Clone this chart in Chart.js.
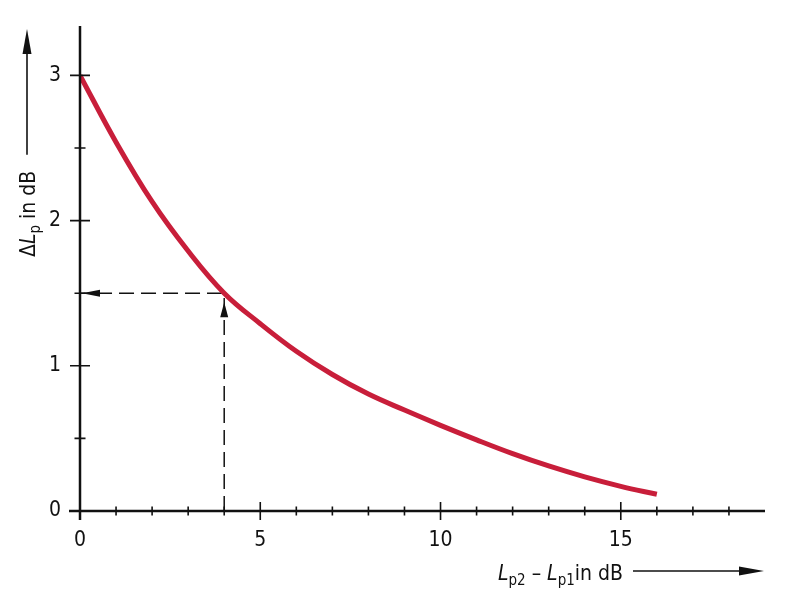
<!DOCTYPE html>
<html>
<head>
<meta charset="utf-8">
<script src="https://cdn.jsdelivr.net/npm/chart.js@4"></script>
<style>
  html, body { margin: 0; padding: 0; background: #fff; }
  #wrap { width: 800px; height: 606px; }
</style>
</head>
<body>
<div id="wrap"><canvas id="myChart" width="800" height="606"></canvas></div>
<script>
// level difference Lp2 - Lp1 (dB) and the resulting increase ΔLp (dB)
const levelDiff = [0, 1, 2, 3, 4, 5, 6, 7, 8, 9, 10, 11, 12, 13, 14, 15, 16];
const deltaL = [3.0, 2.54, 2.13, 1.79, 1.50, 1.29, 1.10, 0.94, 0.805, 0.695, 0.59, 0.49, 0.395, 0.31, 0.235, 0.17, 0.115];

// dashed reading example: 4 dB -> 1.5 dB
const exampleX = [4, 4, 0];
const exampleY = [0, 1.5, 1.5];

const xTickLabels = [0, 5, 10, 15];
const yTickLabels = [0, 1, 2, 3];

const FONT = '"DejaVu Sans Condensed", "Liberation Sans Narrow", "DejaVu Sans", sans-serif';

function arrowHead(ctx, tipX, tipY, dir, len, half) {
  // dir: unit vector of arrow direction
  const bx = tipX - dir[0] * len, by = tipY - dir[1] * len;
  const nx = -dir[1], ny = dir[0];
  ctx.beginPath();
  ctx.moveTo(tipX, tipY);
  ctx.lineTo(bx + nx * half, by + ny * half);
  ctx.lineTo(bx - nx * half, by - ny * half);
  ctx.closePath();
  ctx.fill();
}

// draws text made of parts {t, italic, sub} starting at x, baseline y, returns end x
function richText(ctx, parts, x, y) {
  parts.forEach(p => {
    const size = p.sub ? 15 : 21;
    ctx.font = (p.italic ? 'italic ' : '') + size + 'px ' + FONT;
    ctx.fillText(p.t, x, y + (p.sub ? 5 : 0));
    x += ctx.measureText(p.t).width;
  });
  return x;
}

const axesPlugin = {
  id: 'axesPlugin',
  afterDraw(chart) {
    const ctx = chart.ctx;
    const xs = chart.scales.x, ys = chart.scales.y;
    const x0 = xs.getPixelForValue(0), y0 = ys.getPixelForValue(0);
    ctx.save();
    ctx.strokeStyle = '#111';
    ctx.fillStyle = '#111';
    ctx.lineCap = 'butt';

    // axis lines
    ctx.lineWidth = 2.5;
    ctx.beginPath();
    ctx.moveTo(x0 - 11, y0);
    ctx.lineTo(xs.getPixelForValue(19), y0);
    ctx.moveTo(x0, y0 + 9);
    ctx.lineTo(x0, ys.getPixelForValue(ys.max));
    ctx.stroke();

    // x ticks
    ctx.lineWidth = 1.6;
    ctx.beginPath();
    for (let v = 1; v <= 18; v++) {
      const px = xs.getPixelForValue(v);
      const h = v % 5 === 0 ? 9 : 4.5;
      ctx.moveTo(px, y0 - h);
      ctx.lineTo(px, y0 + h);
    }
    // y ticks
    for (let v = 0.5; v <= 3; v += 0.5) {
      const py = ys.getPixelForValue(v);
      const h = Number.isInteger(v) ? 10 : 5.5;
      ctx.moveTo(x0 - h, py);
      ctx.lineTo(x0 + h, py);
    }
    ctx.stroke();

    // tick labels
    ctx.font = '21px ' + FONT;
    ctx.textBaseline = 'middle';
    ctx.textAlign = 'center';
    xTickLabels.forEach(v => ctx.fillText(String(v), xs.getPixelForValue(v), y0 + 30));
    ctx.textAlign = 'right';
    yTickLabels.forEach(v => ctx.fillText(String(v), x0 - 19, ys.getPixelForValue(v)));

    // arrowheads of the reading example
    const ex = xs.getPixelForValue(4), ey = ys.getPixelForValue(1.5);
    arrowHead(ctx, ex, ey + 9, [0, -1], 15, 4);
    arrowHead(ctx, x0 + 2, ey, [-1, 0], 18, 3.5);

    // x axis title with arrow
    ctx.textAlign = 'left';
    ctx.textBaseline = 'alphabetic';
    const endX = richText(ctx, [
      { t: 'L', italic: true }, { t: 'p2', sub: true },
      { t: ' – ' },
      { t: 'L', italic: true }, { t: 'p1', sub: true },
      { t: 'in dB' }
    ], 498, 580);
    ctx.lineWidth = 1.6;
    ctx.beginPath();
    ctx.moveTo(endX + 10, 571);
    ctx.lineTo(752, 571);
    ctx.stroke();
    arrowHead(ctx, 764, 571, [1, 0], 25, 4.5);

    // y axis title with arrow
    ctx.save();
    ctx.translate(35, 257);
    ctx.rotate(-Math.PI / 2);
    const endY = richText(ctx, [
      { t: 'Δ' }, { t: 'L', italic: true }, { t: 'p', sub: true },
      { t: ' in dB' }
    ], 0, 0);
    ctx.beginPath();
    ctx.moveTo(endY + 16, -8);
    ctx.lineTo(215, -8);
    ctx.stroke();
    arrowHead(ctx, 228, -8, [1, 0], 25, 4.5);
    ctx.restore();

    ctx.restore();
  }
};

const whiteBg = {
  id: 'whiteBg',
  beforeDraw(chart) {
    const ctx = chart.ctx;
    ctx.save();
    ctx.fillStyle = '#fff';
    ctx.fillRect(0, 0, chart.width, chart.height);
    ctx.restore();
  }
};

const config = {
  type: 'line',
  data: {
    datasets: [{
      label: 'ΔLp',
      data: levelDiff.map((x, i) => ({ x: x, y: deltaL[i] })),
      borderColor: 'rgb(200, 30, 58)',
      borderWidth: 5,
      borderCapStyle: 'butt',
      tension: 0.4,
      pointRadius: 0,
      fill: false
    }, {
      label: 'example',
      data: exampleX.map((x, i) => ({ x: x, y: exampleY[i] })),
      borderColor: '#111',
      borderWidth: 1.5,
      borderDash: [15, 7],
      tension: 0,
      pointRadius: 0,
      fill: false
    }]
  },
  options: {
    responsive: false,
    animation: false,
    events: [],
    layout: { padding: { left: 80, right: 35, top: 26, bottom: 95 } },
    plugins: { legend: { display: false }, tooltip: { enabled: false } },
    scales: {
      x: { type: 'linear', min: 0, max: 19, display: false },
      y: { type: 'linear', min: 0, max: 3.34, display: false }
    }
  },
  plugins: [whiteBg, axesPlugin]
};

var myChart = new Chart(document.getElementById('myChart'), config);
</script>
</body>
</html>
